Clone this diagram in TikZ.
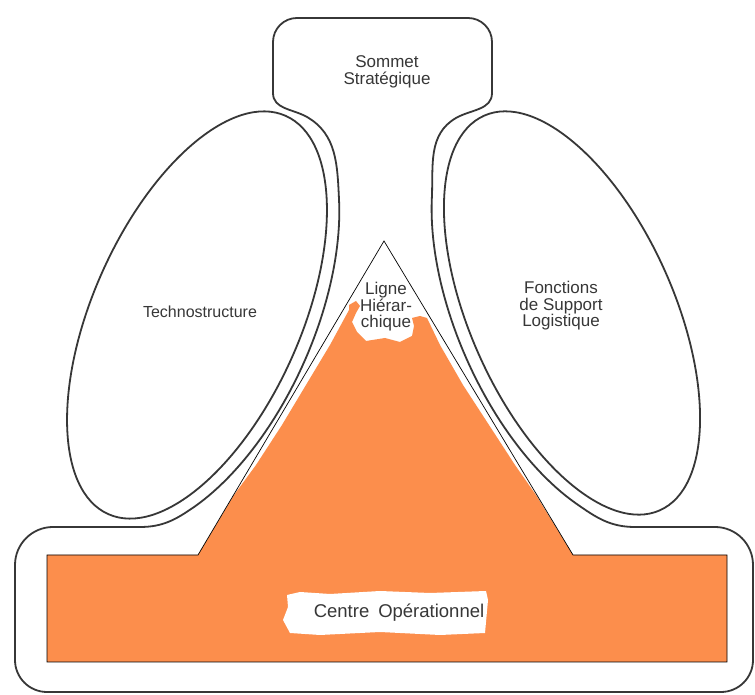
\documentclass[tikz,border=0pt]{standalone}
\usepackage{fontspec}
\setmainfont{Liberation Sans}
\definecolor{orng}{RGB}{252,142,76}
\definecolor{ink}{RGB}{55,55,55}
\tikzset{
  contour/.style={draw=ink, line width=1.8pt, line join=round},
  thinline/.style={draw=black, line width=0.7pt, line join=miter},
  lbl/.style={text=ink, align=center, font=\fontsize{17}{16.5}\selectfont, inner sep=0pt},
}
\begin{document}
\begin{tikzpicture}[x=1pt,y=1pt]
\useasboundingbox (0,0) rectangle (755,695);
\fill[white] (0,0) rectangle (755,695);

% orange operating core + hierarchy
\fill[orng] (47,33) -- (47,140) -- (198,140) -- (234,200) -- (256,230) -- (282,270) -- (306,310)
  -- (330,350) -- (349,385) -- (349,390) -- (356,394) -- (360,389) -- (356,382) -- (352,373)
  -- (357,363) -- (366,354) -- (385,357) -- (400,353) -- (412,359) -- (414,369) -- (412,377)
  -- (420,379) -- (427,377) -- (440,350) -- (463,310) -- (489,270) -- (515,230) -- (536,200)
  -- (573,140) -- (727,140) -- (727,33) -- cycle;
% white patch behind the bottom label
\fill[white] (287,100) -- (300,103) -- (330,101) -- (380,104) -- (430,102) -- (486,104)
  -- (488,95) -- (485,62) -- (440,60) -- (380,63) -- (320,60) -- (290,62) -- (283,75) -- (288,88) -- cycle;
% thin outline of core and triangle
\draw[thinline] (47,33) -- (47,140) -- (198,140) -- (384,454) -- (573,140) -- (727,140) -- (727,33) -- cycle;

% ellipses
\draw[contour, rotate around={66:(197,380)}] (197,380) ellipse [x radius=218pt, y radius=104pt];
\draw[contour, rotate around={114:(572,382)}] (572,382) ellipse [x radius=216pt, y radius=102pt];

% outer contour
\draw[contour] (273,602) -- (273,653) arc[start angle=180, end angle=90, radius=24pt]
  -- (468,677) arc[start angle=90, end angle=0, radius=24pt]
  -- (492,602) to[out=-90,in=30] (456,577) to[out=-150,in=87.3] (431.85,496.85)
  -- plot[domain=45:140, samples=48, variable=\t]
     ({572 - 93.14*cos(\t) - 105.06*sin(\t)}, {382 + 209.20*cos(\t) - 46.78*sin(\t)})
  to[out=-35.1,in=180] (635,168) -- (715,168) arc[start angle=90, end angle=0, radius=38pt]
  -- (753,35) arc[start angle=0, end angle=-90, radius=32pt]
  -- (47,3) arc[start angle=270, end angle=180, radius=32pt]
  -- (15,130) arc[start angle=180, end angle=90, radius=38pt]
  -- (140,168) to[out=0,in=-145.1] (193.7,187.8)
  -- plot[domain=-140:-45, samples=48, variable=\t]
     ({197 + 93.96*cos(\t) - 106.89*sin(\t)}, {380 + 211.03*cos(\t) + 47.59*sin(\t)})
  to[out=92.9,in=-30] (307,578) to[out=150,in=-90] (273,602) -- cycle;

% labels
\node[lbl] (sommet) at (387,623) {Sommet\\Stratégique};
\node[lbl, font=\fontsize{16}{16}\selectfont] (techno) at (200,383) {Technostructure};
\node[lbl] (support) at (561,389) {Fonctions\\de Support\\Logistique};
\node[lbl] (ligne) at (386,388) {Ligne\\Hiérar-\\chique};
\node[lbl, font=\fontsize{18.5}{18.5}\selectfont] (centre) at (399,82) {Centre\hspace{9pt}Opérationnel};
\end{tikzpicture}
\end{document}
